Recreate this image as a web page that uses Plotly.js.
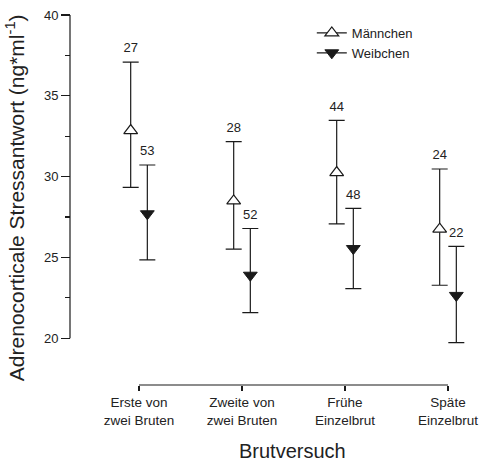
<!DOCTYPE html>
<html>
<head>
<meta charset="utf-8">
<script src="https://cdn.plot.ly/plotly-3.0.1.min.js"></script>
<style>html,body{margin:0;padding:0;background:#fff;}#chart{width:483px;height:466px;}</style>
</head>
<body>
<div id="chart"></div>
<script>
// ---- data ----
var categories = ["Erste von<br>zwei Bruten", "Zweite von<br>zwei Bruten", "Frühe<br>Einzelbrut", "Späte<br>Einzelbrut"];
var maleMean  = [32.85, 28.5, 30.25, 26.75];
var maleUpper = [37.08, 32.16, 33.48, 30.47];
var maleLower = [29.33, 25.51, 27.08, 23.28];
var maleN     = ["27", "28", "44", "24"];
var femaleMean  = [27.7, 23.9, 25.55, 22.65];
var femaleUpper = [30.72, 26.79, 28.03, 25.68];
var femaleLower = [24.85, 21.59, 23.07, 19.73];
var femaleN     = ["53", "52", "48", "22"];
var yTicks = [20, 25, 30, 35, 40];

function diff(a, b) { return a.map(function (v, i) { return v - b[i]; }); }

var ink = '#1a1a1a';
var font = 'Liberation Sans, Arial, sans-serif';

var errStyle = { type: 'data', symmetric: false, color: ink, thickness: 1.2, width: 8 };

var traces = [
  {
    x: categories, y: maleMean, type: 'scatter', mode: 'markers', name: 'Männchen',
    offsetgroup: 'M', showlegend: false, cliponaxis: false,
    marker: { symbol: 'triangle-up', size: 12, color: '#ffffff', line: { color: ink, width: 1.2 } },
    error_y: Object.assign({ array: diff(maleUpper, maleMean), arrayminus: diff(maleMean, maleLower) }, errStyle)
  },
  {
    x: categories, y: femaleMean, type: 'scatter', mode: 'markers', name: 'Weibchen',
    offsetgroup: 'W', showlegend: false, cliponaxis: false,
    marker: { symbol: 'triangle-down', size: 12, color: ink, line: { color: ink, width: 1 } },
    error_y: Object.assign({ array: diff(femaleUpper, femaleMean), arrayminus: diff(femaleMean, femaleLower) }, errStyle)
  },
  {
    x: categories, y: maleUpper, type: 'scatter', mode: 'markers+text', text: maleN,
    textposition: 'top center', offsetgroup: 'M', showlegend: false, cliponaxis: false, hoverinfo: 'skip',
    marker: { size: 9, opacity: 0 }, textfont: { family: font, size: 13, color: '#222' }
  },
  {
    x: categories, y: femaleUpper, type: 'scatter', mode: 'markers+text', text: femaleN,
    textposition: 'top center', offsetgroup: 'W', showlegend: false, cliponaxis: false, hoverinfo: 'skip',
    marker: { size: 9, opacity: 0 }, textfont: { family: font, size: 13, color: '#222' }
  },
  // legend entries
  {
    x: [null], y: [null], type: 'scatter', mode: 'lines+markers', name: 'Männchen', offsetgroup: 'M',
    line: { color: ink, width: 1.2 },
    marker: { symbol: 'triangle-up', size: 12, color: '#ffffff', line: { color: ink, width: 1.2 } }
  },
  {
    x: [null], y: [null], type: 'scatter', mode: 'lines+markers', name: 'Weibchen', offsetgroup: 'W',
    line: { color: ink, width: 1.2 },
    marker: { symbol: 'triangle-down', size: 12, color: ink, line: { color: ink, width: 1 } }
  }
];

var layout = {
  width: 483, height: 466,
  margin: { l: 70, r: 12, t: 15, b: 81 },
  paper_bgcolor: '#ffffff', plot_bgcolor: '#ffffff',
  font: { family: font, size: 13, color: '#222' },
  scattermode: 'group', scattergap: 0.677,
  showlegend: true,
  legend: {
    x: 0.603, y: 0.992, xanchor: 'left', yanchor: 'top',
    font: { family: font, size: 13, color: '#222' },
    bgcolor: 'rgba(0,0,0,0)', tracegroupgap: 0, itemwidth: 30
  },
  xaxis: {
    type: 'category', domain: [0, 1], range: [-0.67, 3.2233],
    anchor: 'free', position: 0,
    showline: false,
    ticks: 'outside', ticklen: 5, tickcolor: ink, tickwidth: 1.2,
    showgrid: false, zeroline: false,
    tickfont: { family: font, size: 13.5, color: '#222' }
  },
  yaxis: {
    domain: [0.0827, 1], range: [19, 40],
    anchor: 'free', position: 0,
    showline: false,
    ticks: 'outside', ticklen: 9, tickcolor: ink, tickwidth: 1.2,
    tickvals: yTicks, ticktext: yTicks.map(String),
    minor: { dtick: 2.5, ticks: 'outside', ticklen: 5, tickcolor: ink, tickwidth: 1.2, showgrid: false },
    showgrid: false, zeroline: false,
    tickfont: { family: font, size: 13, color: '#222' }
  },
  shapes: [
    // x axis line spanning only first to last category
    { type: 'line', xref: 'x', yref: 'paper', x0: 0, x1: categories.length - 1, y0: 0, y1: 0,
      line: { color: ink, width: 1.2 } },
    // y axis line spanning only the labelled range
    { type: 'line', xref: 'paper', yref: 'y', x0: 0, x1: 0, y0: yTicks[0], y1: yTicks[yTicks.length - 1],
      line: { color: ink, width: 1.2 } }
  ],
  annotations: [
    {
      text: 'Adrenocorticale Stressantwort (ng*ml<sup>-1</sup>)',
      xref: 'paper', yref: 'paper', x: 0, y: 0.505, xshift: -55,
      xanchor: 'center', yanchor: 'middle', textangle: -90, showarrow: false,
      font: { family: font, size: 21, color: '#222' }
    },
    {
      text: 'Brutversuch',
      xref: 'paper', yref: 'paper', x: 0.554, y: 0, yshift: -66,
      xanchor: 'center', yanchor: 'middle', showarrow: false,
      font: { family: font, size: 20, color: '#222' }
    }
  ]
};

Plotly.newPlot('chart', traces, layout, { displayModeBar: false, staticPlot: true });
</script>
</body>
</html>
